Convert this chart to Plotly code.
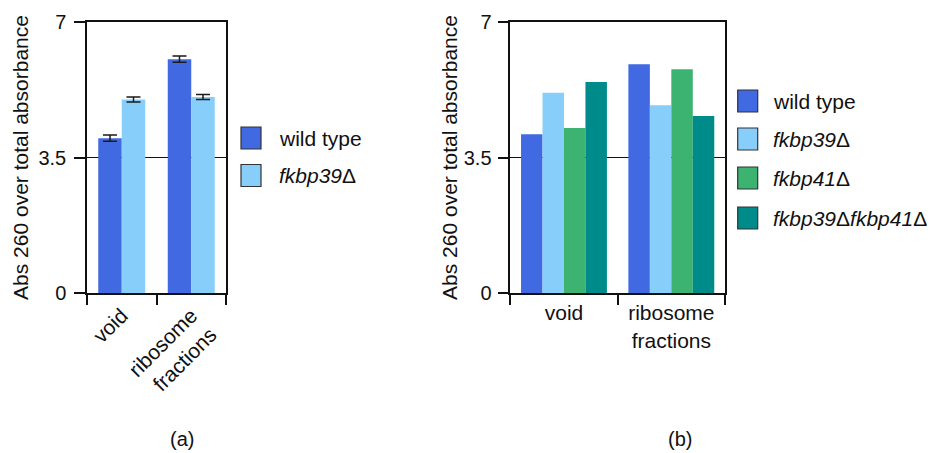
import plotly.graph_objects as go

# ---- data -------------------------------------------------------------
categories = ["void", "ribosome<br>fractions"]

# panel (a): two strains, with error bars
a_names = ["wild type", "<i>fkbp39</i>Δ"]
a_wild_type = [4.00, 6.04]
a_fkbp39 = [5.00, 5.06]
a_wild_type_err = [0.08, 0.08]
a_fkbp39_err = [0.065, 0.065]

# panel (b): four strains
b_names = ["wild type", "<i>fkbp39</i>Δ", "<i>fkbp41</i>Δ", "<i>fkbp39</i>Δ<i>fkbp41</i>Δ"]
b_wild_type = [4.10, 5.91]
b_fkbp39 = [5.17, 4.85]
b_fkbp41 = [4.26, 5.78]
b_double = [5.45, 4.57]

y_ticks = [0, 3.5, 7]
y_ticktext = ["0", "3.5", "7"]
panel_labels = ["(a)", "(b)"]

colors = ["#4169E1", "#87CEFA", "#3CB371", "#008B8B"]

# ---- page geometry (pixels) --------------------------------------------
W, H = 929, 453
FONT = "Liberation Sans, Arial, sans-serif"


def px(x):
    return x / W


def py(y):
    return 1 - y / H


fig = go.Figure()

# panel (a) bars
a_series = [a_wild_type, a_fkbp39]
a_errors = [a_wild_type_err, a_fkbp39_err]
a_width = 0.338
for i, (vals, errs) in enumerate(zip(a_series, a_errors)):
    fig.add_trace(go.Bar(
        x=categories, y=vals, name=a_names[i],
        width=a_width, offset=-a_width + i * a_width,
        marker=dict(color=colors[i], line=dict(width=0)),
        error_y=dict(type="data", array=errs, visible=True,
                     color="#1a1a1a", thickness=1.5, width=7),
        xaxis="x", yaxis="y", showlegend=False,
    ))

# panel (b) bars
b_series = [b_wild_type, b_fkbp39, b_fkbp41, b_double]
b_width = 0.2
for i, vals in enumerate(b_series):
    fig.add_trace(go.Bar(
        x=categories, y=vals, name=b_names[i],
        width=b_width, offset=-2 * b_width + i * b_width,
        marker=dict(color=colors[i], line=dict(width=0)),
        xaxis="x2", yaxis="y2", showlegend=False,
    ))

axis_font = dict(family=FONT, size=20, color="#111")
x_font = dict(family=FONT, size=21, color="#111")
title_font = dict(family=FONT, size=21, color="#111")

common_x = dict(
    type="category", range=[-0.5, 1.5], tickson="boundaries",
    ticks="outside", ticklen=10, tickwidth=1.5, tickcolor="#111",
    showline=True, mirror=True, linewidth=2, linecolor="#111",
    showgrid=False, zeroline=False, tickfont=x_font, automargin=False,
)
common_y = dict(
    range=[0, 7], tickvals=y_ticks, ticktext=y_ticktext,
    ticks="outside", ticklen=11, tickwidth=1.5, tickcolor="#111",
    showline=True, mirror=True, linewidth=1.5, linecolor="#111",
    showgrid=True, gridcolor="#111", gridwidth=1.2,
    zeroline=False, tickfont=axis_font, automargin=False,
)
y_title = "Abs 260 over total absorbance"

y_dom = [py(293), py(22)]

fig.update_layout(
    width=W, height=H,
    margin=dict(l=0, r=0, t=0, b=0),
    paper_bgcolor="white", plot_bgcolor="white",
    barmode="overlay",
    font=dict(family=FONT, color="#111"),
    xaxis=dict(common_x, domain=[px(87), px(226)], anchor="y", tickangle=-45),
    yaxis=dict(common_y, domain=y_dom, anchor="x", ticklabelstandoff=4,
               title=dict(text=y_title, font=title_font, standoff=4)),
    xaxis2=dict(common_x, domain=[px(510.3), px(725)], anchor="y2", tickangle=0),
    yaxis2=dict(common_y, domain=y_dom, anchor="x2", ticklabelstandoff=2,
                title=dict(text=y_title, font=title_font, standoff=0)),
)

# legends drawn as swatches + labels
def add_legend(names, x_box, x_text, y_centers):
    for i, name in enumerate(names):
        yc = y_centers[i]
        fig.add_shape(type="rect", xref="paper", yref="paper",
                      x0=px(x_box), x1=px(x_box + 20),
                      y0=py(yc + 11), y1=py(yc - 11),
                      fillcolor=colors[i], line=dict(color="#333", width=1.2))
        fig.add_annotation(x=px(x_text), y=py(yc), xref="paper", yref="paper",
                           text=name, showarrow=False, xanchor="left", yanchor="middle",
                           font=dict(family=FONT, size=21, color="#111"))


add_legend(a_names, 241, 277, [138, 175.5])
add_legend(b_names, 737.7, 771, [101, 139, 178, 218])

for label, xc in zip(panel_labels, [182, 680]):
    fig.add_annotation(x=px(xc), y=py(439), xref="paper", yref="paper",
                       text=label, showarrow=False, xanchor="center", yanchor="middle",
                       font=dict(family=FONT, size=20, color="#111"))

fig.write_html("out.html")
